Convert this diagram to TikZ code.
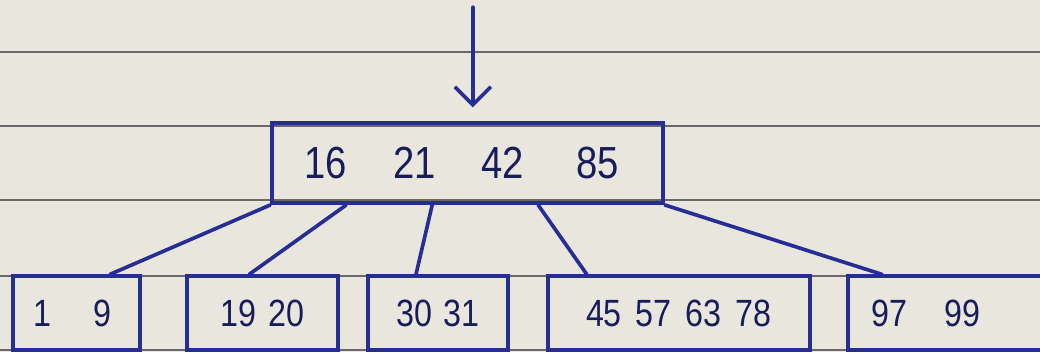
\documentclass[tikz,border=0pt]{standalone}
\usepackage{fontspec}
\newfontfamily\handfont[FakeStretch=0.85]{Liberation Sans}
\usetikzlibrary{arrows.meta}
\definecolor{paper}{RGB}{233,231,221}
\definecolor{ink}{RGB}{38,46,150}
\definecolor{inktext}{RGB}{24,28,90}
\definecolor{rule}{RGB}{105,105,105}
\begin{document}
\begin{tikzpicture}[
        keybox/.style={rectangle, draw=ink, line width=2.6pt, inner sep=0pt, minimum height=1.85cm, text=inktext, font=\handfont\fontsize{27}{30}\selectfont},
        rootbox/.style={keybox, minimum width=9.78cm, minimum height=2.0cm, font=\handfont\fontsize{32}{36}\selectfont},
        link/.style={draw=ink, line width=2.6pt, line cap=round},
        entryarrow/.style={link, -{Straight Barb[length=0.45cm, width=0.9cm, line width=2.6pt]}},
        ruled/.style={draw=rule, line width=0.8pt}
    ]
        \useasboundingbox (0,0) rectangle (26,8.8);
        \fill[paper] (0,0) rectangle (26,8.8);

        % Ruled paper
        \foreach \y in {7.5, 5.65, 3.8, 1.9, 0.05}
            \draw[ruled] (0,\y) -- (26,\y);

        % Root node
        \node (root) [rootbox] at (11.69,4.72) {16\hspace{1.15cm}21\hspace{1.15cm}42\hspace{1.3cm}85\hspace*{0.3cm}};

        % Leaves
        \node (leafA) [keybox, minimum width=3.18cm] at (1.91,0.97) {1\hspace{1.05cm}9\hspace*{0.2cm}};
        \node (leafB) [keybox, minimum width=3.78cm] at (6.56,0.97) {19\hspace{0.3cm}20};
        \node (leafC) [keybox, minimum width=3.5cm] at (10.95,0.97) {30\hspace{0.3cm}31};
        \node (leafD) [keybox, minimum width=6.55cm] at (16.97,0.97) {45\hspace{0.35cm}57\hspace{0.35cm}63\hspace{0.35cm}78};
        \node (leafE) [keybox, minimum width=4.9cm] at (23.65,0.97) {97\hspace{0.95cm}99\hspace*{1.0cm}};

        % Entry arrow
        \coordinate (entry) at (11.82,8.62);
        \draw[entryarrow, shorten >=0.35cm] (entry) -- (entry |- root.north);

        % Child pointers
        \draw[link] (root.south west) -- ([xshift=0.84cm]leafA.north);
        \draw[link] ([xshift=1.9cm]root.south west) -- ([xshift=-0.33cm]leafB.north);
        \draw[link] ([xshift=4.05cm]root.south west) -- ([xshift=-0.55cm]leafC.north);
        \draw[link] ([xshift=6.7cm]root.south west) -- ([xshift=-2.3cm]leafD.north);
        \draw[link] (root.south east) -- ([xshift=-1.6cm]leafE.north);
    \end{tikzpicture}
\end{document}
